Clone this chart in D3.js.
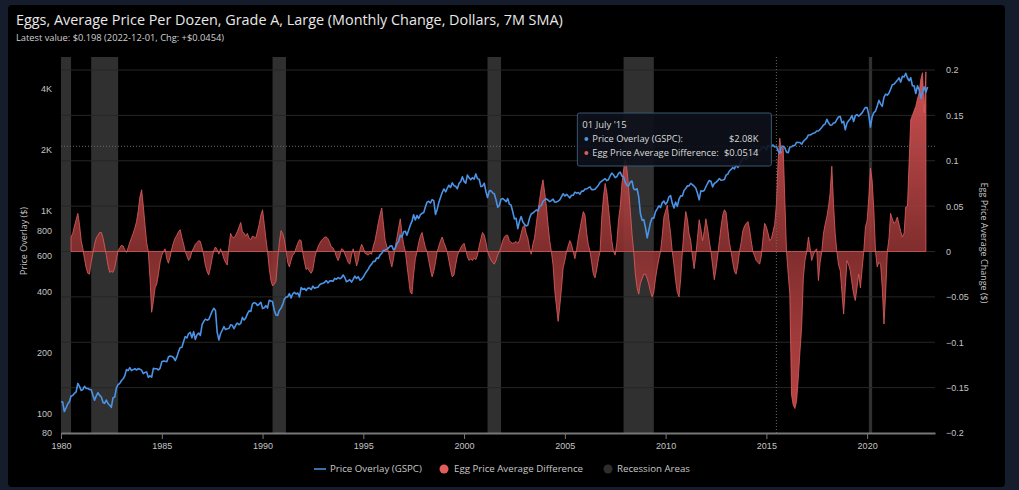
<!DOCTYPE html>
<html>
<head>
<meta charset="utf-8">
<script src="https://cdn.jsdelivr.net/npm/d3@7"></script>
<style>
  html, body { margin: 0; padding: 0; background: #151c2b; }
  svg { display: block; font-family: "Open Sans", "Noto Sans", sans-serif; }
</style>
</head>
<body>
<svg id="chart" width="1019" height="490"></svg>
<script>
// S&P 500 (GSPC), monthly, from Jan 1980
var spxStart = "1980-01-01";
var spxValues = [
  114.2, 113.7, 102.1, 106.3, 111.2, 114.2, 121.7, 122.4, 125.5, 127.5, 140.5, 135.8,
  129.6, 131.3, 136.0, 132.8, 132.6, 131.2, 130.9, 122.8, 116.2, 121.9, 126.4, 122.6,
  120.4, 113.1, 112.0, 116.4, 111.9, 109.6, 107.1, 119.5, 120.4, 133.7, 138.5, 140.6,
  145.3, 148.1, 153.0, 164.4, 162.4, 168.1, 162.6, 164.4, 166.1, 163.6, 166.4, 164.9,
  163.4, 157.1, 159.2, 160.1, 150.6, 153.2, 150.7, 166.7, 166.1, 166.1, 163.6, 167.2,
  179.6, 181.2, 180.7, 179.8, 189.6, 191.9, 190.9, 188.6, 182.1, 189.8, 202.2, 211.3,
  211.8, 226.9, 238.9, 235.5, 247.4, 250.8, 236.1, 252.9, 231.3, 244.0, 249.2, 242.2,
  274.1, 284.2, 291.7, 288.4, 290.1, 304.0, 318.7, 329.8, 321.8, 251.8, 230.3, 247.1,
  257.1, 267.8, 258.9, 261.3, 262.2, 273.5, 272.0, 261.5, 271.9, 279.0, 273.7, 277.7,
  297.5, 288.9, 294.9, 309.6, 320.5, 318.0, 346.1, 351.5, 349.2, 340.4, 346.0, 353.4,
  329.1, 331.9, 339.9, 330.8, 361.2, 358.0, 356.2, 322.6, 306.1, 304.0, 322.2, 330.2,
  343.9, 367.1, 375.2, 375.4, 389.8, 371.2, 387.8, 395.4, 387.9, 392.5, 375.2, 417.1,
  408.8, 412.7, 403.7, 415.0, 415.4, 408.1, 424.2, 414.0, 417.8, 418.7, 431.4, 435.7,
  438.8, 443.4, 451.7, 440.2, 450.2, 450.5, 448.1, 463.6, 458.9, 467.8, 461.8, 466.5,
  481.6, 467.1, 445.8, 450.9, 456.5, 444.3, 458.3, 475.5, 462.7, 472.4, 453.7, 459.3,
  470.4, 487.4, 500.7, 514.7, 533.4, 544.8, 562.1, 561.9, 584.4, 581.5, 605.4, 615.9,
  636.0, 640.4, 645.5, 654.2, 669.1, 670.6, 640.0, 652.0, 687.3, 705.3, 757.0, 740.7,
  786.2, 790.8, 757.1, 801.3, 848.3, 885.1, 954.3, 899.5, 947.3, 914.6, 955.4, 970.4,
  980.3, 1049.3, 1101.8, 1111.8, 1090.8, 1133.8, 1120.7, 957.3, 1017.0, 1098.7, 1163.6, 1229.2,
  1279.6, 1238.3, 1286.4, 1335.2, 1301.8, 1372.7, 1328.7, 1320.4, 1282.7, 1362.9, 1388.9, 1469.3,
  1394.5, 1366.4, 1498.6, 1452.4, 1420.6, 1454.6, 1430.8, 1517.7, 1436.5, 1429.4, 1315.0, 1320.3,
  1366.0, 1239.9, 1160.3, 1249.5, 1255.8, 1224.4, 1211.2, 1133.6, 1040.9, 1059.8, 1139.5, 1148.1,
  1130.2, 1106.7, 1147.4, 1076.9, 1067.1, 989.8, 911.6, 916.1, 815.3, 885.8, 936.3, 879.8,
  855.7, 841.2, 848.2, 916.9, 963.6, 974.5, 990.3, 1008.0, 996.0, 1050.7, 1058.2, 1111.9,
  1131.1, 1144.9, 1126.2, 1107.3, 1120.7, 1140.8, 1101.7, 1104.2, 1114.6, 1130.2, 1173.8, 1211.9,
  1181.3, 1203.6, 1180.6, 1156.9, 1191.5, 1191.3, 1234.2, 1220.3, 1228.8, 1207.0, 1249.5, 1248.3,
  1280.1, 1280.7, 1294.9, 1310.6, 1270.1, 1270.2, 1276.7, 1303.8, 1335.9, 1377.9, 1400.6, 1418.3,
  1438.2, 1406.8, 1420.9, 1482.4, 1530.6, 1503.4, 1455.3, 1474.0, 1526.8, 1549.4, 1481.1, 1468.4,
  1378.6, 1330.6, 1322.7, 1385.6, 1400.4, 1280.0, 1267.4, 1282.8, 1166.4, 968.8, 896.2, 903.3,
  825.9, 735.1, 797.9, 872.8, 919.1, 919.3, 987.5, 1020.6, 1057.1, 1036.2, 1095.6, 1115.1,
  1073.9, 1104.5, 1169.4, 1186.7, 1089.4, 1030.7, 1101.6, 1049.3, 1141.2, 1183.3, 1180.6, 1257.6,
  1286.1, 1327.2, 1325.8, 1363.6, 1345.2, 1320.6, 1292.3, 1218.9, 1131.4, 1253.3, 1247.0, 1257.6,
  1312.4, 1365.7, 1408.5, 1397.9, 1310.3, 1362.2, 1379.3, 1406.6, 1440.7, 1412.2, 1416.2, 1426.2,
  1498.1, 1514.7, 1569.2, 1597.6, 1630.7, 1606.3, 1685.7, 1633.0, 1681.6, 1756.5, 1805.8, 1848.4,
  1782.6, 1859.5, 1872.3, 1884.0, 1923.6, 1960.2, 1930.7, 2003.4, 1972.3, 2018.1, 2067.6, 2058.9,
  1995.0, 2104.5, 2067.9, 2085.5, 2107.4, 2063.1, 2077.4, 1972.2, 1920.0, 2079.4, 2080.4, 2043.9,
  1940.2, 1932.2, 2059.7, 2065.3, 2097.0, 2098.9, 2173.6, 2171.0, 2168.3, 2126.2, 2198.8, 2238.8,
  2278.9, 2363.6, 2362.7, 2384.2, 2411.8, 2423.4, 2470.3, 2471.7, 2519.4, 2575.3, 2647.6, 2673.6,
  2823.8, 2713.8, 2640.9, 2648.1, 2705.3, 2718.4, 2816.3, 2901.5, 2914.0, 2711.7, 2760.2, 2506.9,
  2704.1, 2784.5, 2834.4, 2945.8, 2752.1, 2941.8, 2980.4, 2926.5, 2976.7, 3037.6, 3141.0, 3230.8,
  3225.5, 2954.2, 2584.6, 2912.4, 3044.3, 3100.3, 3271.1, 3500.3, 3363.0, 3270.0, 3621.6, 3756.1,
  3714.2, 3811.2, 3972.9, 4181.2, 4204.1, 4297.5, 4395.3, 4522.7, 4307.5, 4605.4, 4567.0, 4766.2,
  4515.6, 4373.9, 4530.4, 4131.9, 4132.2, 3785.4, 4130.3, 3955.0, 3585.6, 3872.0, 4080.1, 3839.5,
  4076.6
];

// egg price, monthly change, 7M SMA ($), from Jul 1980
var eggStart = "1980-07-01";
var eggValues = [
  0.016, 0.02, 0.028, 0.035, 0.042, 0.03,
  0.012, 0.003, -0.008, -0.018, -0.024, -0.025, -0.012, -0.002, 0.008, 0.015, 0.018, 0.021,
  0.021, 0.015, 0.006, -0.004, -0.015, -0.023, -0.022, -0.023, -0.018, -0.008, 0.001, 0.004,
  0.007, 0.006, 0.002, -0.001, 0.004, 0.01, 0.015, 0.02, 0.026, 0.033, 0.045, 0.06,
  0.068, 0.05, 0.03, 0.01, 0.0, -0.03, -0.067, -0.055, -0.04, -0.036, -0.025, -0.012,
  -0.004, 0.0, 0.003, -0.008, -0.013, -0.006, 0.003, 0.01, 0.015, 0.018, 0.022, 0.024,
  0.015, 0.008, 0.0, -0.005, -0.01, -0.007, 0.0, 0.004, 0.008, 0.01, 0.012, 0.011,
  0.004, -0.005, -0.015, -0.022, -0.026, -0.018, -0.008, 0.001, 0.005, 0.002, -0.003, 0.003,
  -0.002, -0.008, -0.012, -0.015, 0.005, 0.02, 0.016, 0.015, 0.018, 0.022, 0.027, 0.032,
  0.022, 0.02, 0.017, 0.02, 0.015, 0.013, 0.017, 0.016, 0.015, 0.022, 0.03, 0.04,
  0.046, 0.03, 0.015, 0.0, -0.018, -0.032, -0.038, -0.036, -0.033, -0.01, 0.01, 0.023,
  0.02, 0.013, 0.002, -0.012, -0.017, -0.01, -0.004, -0.002, 0.004, 0.009, 0.013, 0.012,
  -0.002, -0.012, -0.02, -0.018, -0.022, -0.024, -0.02, -0.008, 0.0, 0.005, 0.009, 0.012,
  0.014, 0.016, 0.016, 0.014, 0.01, 0.005, 0.004, 0.0, -0.006, -0.01, -0.005, 0.003,
  0.002, -0.003, -0.007, -0.012, -0.014, -0.004, 0.003, -0.006, -0.016, -0.01, 0.002, 0.008,
  0.004, -0.002, -0.003, -0.004, -0.002, -0.003, 0.006, 0.012, 0.022, 0.032, 0.041, 0.048,
  0.03, 0.012, 0.006, 0.0, -0.01, -0.017, -0.008, 0.005, 0.015, 0.026, 0.036, 0.02,
  0.008, 0.0, -0.015, -0.03, -0.045, -0.047, -0.025, -0.008, 0.0, 0.01, 0.017, 0.021,
  0.012, 0.004, 0.0, -0.01, -0.02, -0.028, -0.022, -0.012, 0.0, 0.006, 0.012, 0.016,
  0.01, 0.005, 0.0, -0.01, -0.02, -0.028, -0.026, -0.015, -0.005, 0.0, 0.004, 0.007,
  0.009, 0.002, -0.006, -0.01, -0.008, -0.01, -0.007, -0.009, -0.004, 0.006, 0.014, 0.021,
  0.018, 0.01, 0.0, -0.005, -0.009, -0.012, -0.014, -0.01, -0.004, 0.0, 0.005, 0.012,
  0.016, 0.018, 0.018, 0.012, 0.01, 0.009, 0.01, 0.011, 0.009, 0.012, 0.02, 0.027,
  0.029, 0.02, 0.015, 0.004, -0.003, 0.008, 0.015, 0.03, 0.045, 0.057, 0.07, 0.079,
  0.065, 0.05, 0.03, 0.012, 0.0, -0.015, -0.043, -0.06, -0.077, -0.06, -0.04, -0.018,
  -0.01, 0.0, 0.006, 0.012, 0.008, 0.0, -0.008, 0.002, 0.015, 0.025, 0.035, 0.044,
  0.04, 0.02, 0.008, 0.0, -0.012, -0.025, -0.029, -0.02, -0.008, 0.0, 0.038, 0.06,
  0.075, 0.065, 0.049, 0.03, 0.012, 0.0, -0.004, 0.01, 0.035, 0.049, 0.075, 0.09,
  0.101, 0.09, 0.07, 0.045, 0.02, 0.0, -0.025, -0.04, -0.047, -0.035, -0.03, -0.025,
  -0.025, -0.03, -0.036, -0.044, -0.05, -0.045, -0.03, -0.018, -0.008, 0.0, 0.018, 0.038,
  0.045, 0.051, 0.035, 0.02, 0.0, -0.015, -0.032, -0.045, -0.05, -0.03, 0.0, 0.025,
  0.044, 0.035, 0.02, 0.012, -0.005, -0.019, -0.005, 0.015, 0.035, 0.025, 0.012, 0.022,
  0.036, 0.025, 0.012, 0.0, -0.015, -0.031, -0.02, -0.005, 0.012, 0.027, 0.04, 0.046,
  0.043, 0.025, 0.01, 0.0, -0.012, -0.022, -0.025, -0.015, 0.0, 0.01, 0.023, 0.028,
  0.031, 0.033, 0.025, 0.012, 0.0, -0.005, -0.01, -0.012, -0.014, -0.005, 0.015, 0.031,
  0.027, 0.02, 0.012, 0.014, 0.022, 0.03, 0.0514, 0.1, 0.125, 0.108, 0.116, 0.057,
  0.0, -0.025, -0.047, -0.158, -0.169, -0.173, -0.165, -0.14, -0.11, -0.084, -0.029, -0.01,
  0.0, 0.016, 0.005, -0.01, -0.004, 0.001, 0.003, -0.032, -0.012, 0.0, 0.02, 0.03,
  0.038, 0.05, 0.064, 0.094, 0.053, 0.02, 0.0, -0.015, -0.021, -0.045, -0.069, -0.04,
  -0.01, -0.015, -0.021, -0.035, -0.047, -0.054, -0.04, -0.025, -0.04, -0.02, 0.0, 0.027,
  0.034, 0.06, 0.092, 0.078, 0.046, 0.0, -0.017, -0.012, -0.014, -0.04, -0.08, -0.047,
  0.0, 0.015, 0.042, 0.036, 0.031, 0.033, 0.038, 0.03, 0.022, 0.016, 0.02, 0.049,
  0.05, 0.1, 0.145, 0.15, 0.155, 0.16, 0.168, 0.175, 0.19, 0.197, 0.153, 0.198
];

var recessions = [
  ["1980-01-01", "1980-07-01"],
  ["1981-07-01", "1982-11-01"],
  ["1990-07-01", "1991-03-01"],
  ["2001-03-01", "2001-11-01"],
  ["2007-12-01", "2009-06-01"],
  ["2020-02-01", "2020-04-01"]
];

var yearTicks = [1980, 1985, 1990, 1995, 2000, 2005, 2010, 2015, 2020];
var priceTicks = [80, 100, 200, 400, 600, 800, 1000, 2000, 4000];
var changeTicks = [-0.2, -0.15, -0.1, -0.05, 0, 0.05, 0.1, 0.15, 0.2];
var hoverDate = "2015-07-01";

var parse = d3.timeParse("%Y-%m-%d");

function monthly(start, values) {
  var t0 = parse(start);
  return values.map(function (v, i) {
    return { date: d3.timeMonth.offset(t0, i), value: v };
  });
}

var spx = monthly(spxStart, spxValues);
var egg = monthly(eggStart, eggValues);

var W = 1019, H = 490;
var plot = { left: 61, right: 935, top: 57, bottom: 433 };

var svg = d3.select("#chart");

// frame
svg.append("rect").attr("width", W).attr("height", H).attr("fill", "#151c2b");
svg.append("rect").attr("x", 8).attr("y", 5).attr("width", 997).attr("height", 482)
  .attr("rx", 4).attr("fill", "#000");

var x = d3.scaleTime()
  .domain([parse("1980-01-01"), parse("2023-05-15")])
  .range([plot.left, plot.right]);

var yL = d3.scaleLog()
  .domain([80, 5730])
  .range([plot.bottom, plot.top]);

var yR = d3.scaleLinear()
  .domain([-0.2, 0.2])
  .range([plot.bottom, 70]);

var defs = svg.append("defs");
defs.append("clipPath").attr("id", "clip")
  .append("rect")
  .attr("x", plot.left).attr("y", plot.top)
  .attr("width", plot.right - plot.left).attr("height", plot.bottom - plot.top);

var grad = defs.append("linearGradient").attr("id", "eggFill")
  .attr("gradientUnits", "userSpaceOnUse")
  .attr("x1", 0).attr("x2", 0)
  .attr("y1", yR(0.2)).attr("y2", yR(-0.2));
grad.append("stop").attr("offset", "0%").attr("stop-color", "#e65a5a");
grad.append("stop").attr("offset", "50%").attr("stop-color", "#8e3232");
grad.append("stop").attr("offset", "100%").attr("stop-color", "#d85050");

// recession bands
svg.append("g").selectAll("rect")
  .data(recessions)
  .enter().append("rect")
  .attr("x", function (d) { return x(parse(d[0])); })
  .attr("width", function (d) { return Math.max(1.5, x(parse(d[1])) - x(parse(d[0]))); })
  .attr("y", plot.top)
  .attr("height", plot.bottom - plot.top)
  .attr("fill", "#303030");

// grid from right axis
svg.append("g").selectAll("line")
  .data(changeTicks.filter(function (d) { return d > -0.2; }))
  .enter().append("line")
  .attr("x1", plot.left).attr("x2", plot.right)
  .attr("y1", function (d) { return yR(d); })
  .attr("y2", function (d) { return yR(d); })
  .attr("stroke", "#262626")
  .attr("stroke-width", 1);

var g = svg.append("g").attr("clip-path", "url(#clip)");

// egg area
g.append("path")
  .datum(egg)
  .attr("fill", "url(#eggFill)")
  .attr("fill-opacity", 0.9)
  .attr("stroke", "#e06060")
  .attr("stroke-width", 0.8)
  .attr("d", d3.area()
    .x(function (d) { return x(d.date); })
    .y0(yR(0))
    .y1(function (d) { return yR(d.value); }));

// price line
g.append("path")
  .datum(spx)
  .attr("fill", "none")
  .attr("stroke", "#4a93e6")
  .attr("stroke-width", 1.6)
  .attr("stroke-linejoin", "round")
  .attr("d", d3.line()
    .x(function (d) { return x(d.date); })
    .y(function (d) { return yL(d.value); }));

// x axis
var xAxis = svg.append("g")
  .attr("transform", "translate(0," + plot.bottom + ")")
  .call(d3.axisBottom(x)
    .tickValues(yearTicks.map(function (y) { return new Date(y, 0, 1); }))
    .tickFormat(d3.timeFormat("%Y"))
    .tickSize(6)
    .tickSizeOuter(0));
xAxis.select(".domain").attr("stroke", "#777").attr("stroke-width", 2);
xAxis.selectAll(".tick line").attr("stroke", "#777");
xAxis.selectAll("text").attr("fill", "#c4c4c4").attr("font-size", 9).attr("dy", "0.8em");

// left axis
var lAxis = svg.append("g")
  .attr("transform", "translate(52,0)")
  .call(d3.axisLeft(yL)
    .tickValues(priceTicks)
    .tickFormat(function (d) { return d >= 1000 ? d / 1000 + "K" : d; })
    .tickSize(0));
lAxis.select(".domain").remove();
lAxis.selectAll("text").attr("fill", "#c4c4c4").attr("font-size", 9).attr("x", 0);

// right axis
var rAxis = svg.append("g")
  .attr("transform", "translate(946,0)")
  .call(d3.axisRight(yR)
    .tickValues(changeTicks)
    .tickFormat(function (d) { return d3.format("")(+d.toFixed(2)); })
    .tickSize(0));
rAxis.select(".domain").remove();
rAxis.selectAll("text").attr("fill", "#c4c4c4").attr("font-size", 9).attr("x", 0);

// axis titles
svg.append("text")
  .attr("transform", "translate(27,241) rotate(-90)")
  .attr("text-anchor", "middle")
  .attr("fill", "#c4c4c4").attr("font-size", 9)
  .text("Price Overlay ($)");
svg.append("text")
  .attr("transform", "translate(981,243) rotate(90)")
  .attr("text-anchor", "middle")
  .attr("fill", "#c4c4c4").attr("font-size", 9)
  .text("Egg Price Average Change ($)");

// title
svg.append("text")
  .attr("x", 16).attr("y", 25)
  .attr("fill", "#e8e8e8").attr("font-size", 14.4)
  .text("Eggs, Average Price Per Dozen, Grade A, Large (Monthly Change, Dollars, 7M SMA)");
svg.append("text")
  .attr("x", 16).attr("y", 41)
  .attr("fill", "#d0d0d0").attr("font-size", 9.3)
  .text("Latest value: $0.198 (2022-12-01, Chg: +$0.0454)");

// crosshair + tooltip
var hDate = parse(hoverDate);
var hSpx = spx.find(function (d) { return +d.date === +hDate; });
var hEgg = egg.find(function (d) { return +d.date === +hDate; });
var cx = x(hDate);

svg.append("line")
  .attr("x1", cx).attr("x2", cx).attr("y1", plot.top).attr("y2", plot.bottom)
  .attr("stroke", "#6a6a6a").attr("stroke-dasharray", "1,2");
svg.append("line")
  .attr("x1", plot.left).attr("x2", plot.right)
  .attr("y1", yL(hSpx.value)).attr("y2", yL(hSpx.value))
  .attr("stroke", "#6a6a6a").attr("stroke-dasharray", "1,2");

var tip = svg.append("g").attr("transform", "translate(" + (cx - 199) + ",113)");
tip.append("rect")
  .attr("width", 194).attr("height", 53).attr("rx", 2)
  .attr("fill", "#0d1119").attr("fill-opacity", 0.9)
  .attr("stroke", "#3a5672");
tip.append("text").attr("x", 5).attr("y", 15)
  .attr("fill", "#dcdcdc").attr("font-size", 9.5)
  .text(d3.timeFormat("%d %B '%y")(hDate));
var rows = [
  { color: "#4a93e6", label: "Price Overlay (GSPC):", value: "$" + (hSpx.value / 1000).toFixed(2) + "K" },
  { color: "#e25c5c", label: "Egg Price Average Difference:", value: "$" + hEgg.value.toFixed(4) }
];
rows.forEach(function (r, i) {
  var ry = 29 + i * 14;
  tip.append("circle").attr("cx", 9).attr("cy", ry - 3).attr("r", 2).attr("fill", r.color);
  tip.append("text").attr("x", 15).attr("y", ry)
    .attr("fill", "#dcdcdc").attr("font-size", 9.3).text(r.label);
  tip.append("text").attr("x", 181).attr("y", ry).attr("text-anchor", "end")
    .attr("fill", "#dcdcdc").attr("font-size", 9.3).text(r.value);
});

// legend
var legend = svg.append("g").attr("transform", "translate(0,469)");
legend.append("line").attr("x1", 314).attr("x2", 326).attr("stroke", "#3a6fa8").attr("stroke-width", 2);
legend.append("text").attr("x", 330).attr("y", 3).attr("fill", "#c8c8c8").attr("font-size", 9.7)
  .text("Price Overlay (GSPC)");
legend.append("circle").attr("cx", 444).attr("r", 4.5).attr("fill", "#e25c5c");
legend.append("text").attr("x", 454).attr("y", 3).attr("fill", "#c8c8c8").attr("font-size", 9.7)
  .text("Egg Price Average Difference");
legend.append("circle").attr("cx", 608).attr("r", 4.5).attr("fill", "#2e2e2e");
legend.append("text").attr("x", 617).attr("y", 3).attr("fill", "#c8c8c8").attr("font-size", 9.7)
  .text("Recession Areas");
</script>
</body>
</html>
